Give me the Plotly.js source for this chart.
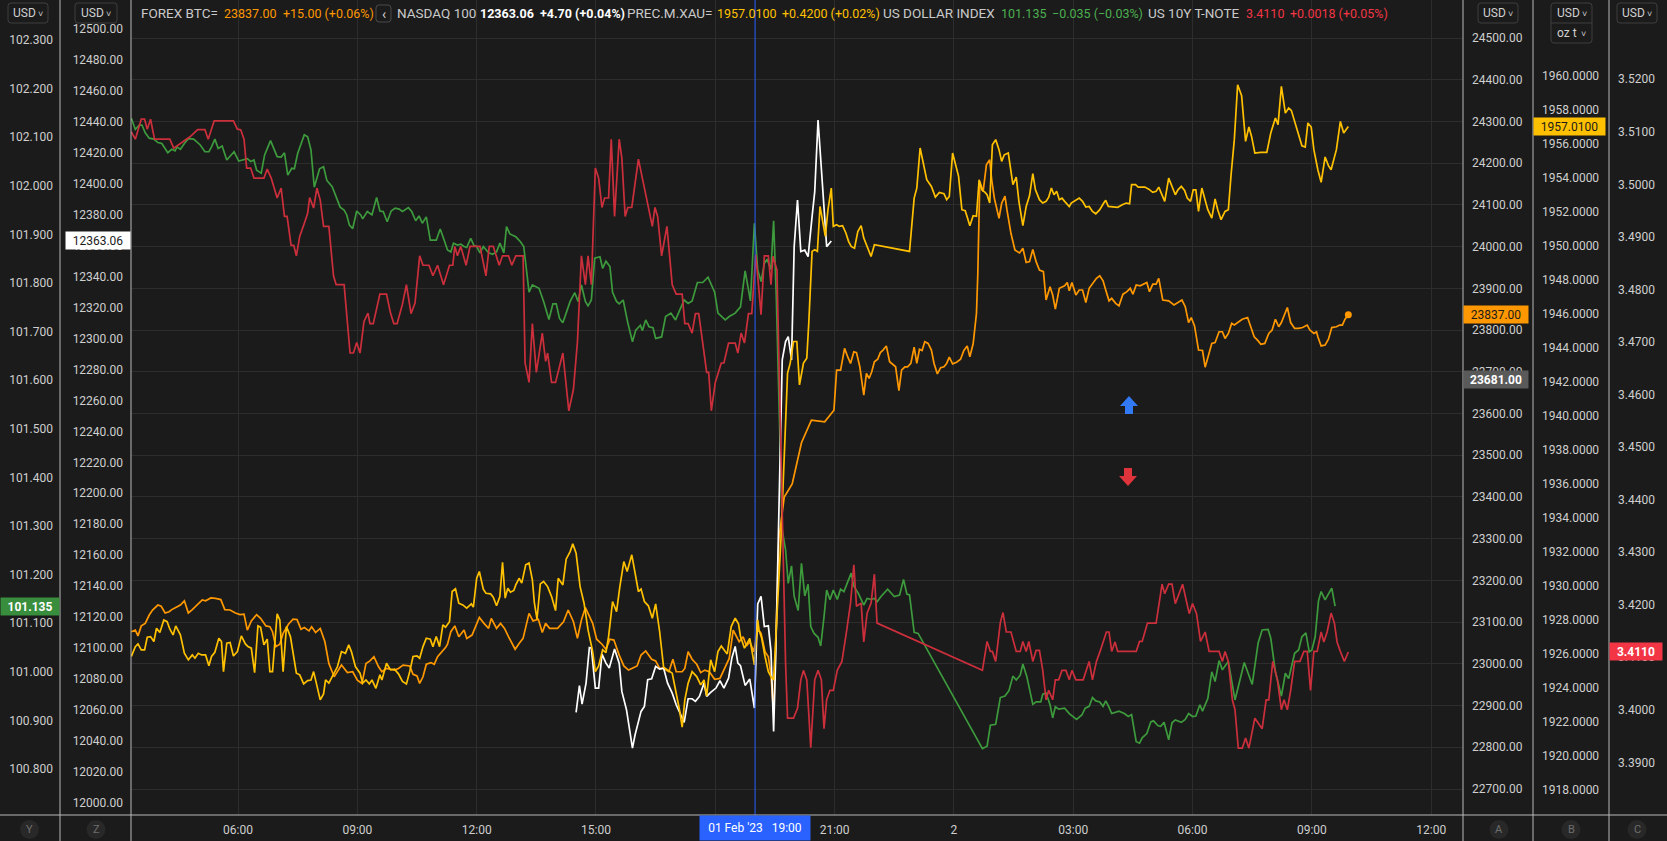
<!DOCTYPE html>
<html><head><meta charset="utf-8">
<script src="https://cdn.plot.ly/plotly-3.0.1.min.js"></script>
<style>html,body{margin:0;padding:0;background:#1b1b1b;overflow:hidden}#chart{width:1667px;height:841px}</style>
</head><body><div id="chart"></div>
<script>
// ---------------- DATA ----------------
// time strings: "<day of Feb 2023> HH:MM"
const tnoteT = ['1 03:19','1 03:25','1 03:34','1 03:39','1 03:43','1 03:48','1 03:54','1 04:17','1 04:23','1 04:48','1 04:59','1 05:10','1 05:15','1 05:24','1 05:53','1 05:59','1 06:04','1 06:09','1 06:13','1 06:19','1 06:24','1 06:39','1 06:44','1 06:50','1 06:59','1 07:05','1 07:10','1 07:14','1 07:20','1 07:24','1 07:28','1 07:33','1 07:40','1 07:45','1 07:48','1 07:54','1 07:59','1 08:04','1 08:09','1 08:17','1 08:24','1 08:28','1 08:40','1 08:49','1 08:54','1 08:59','1 09:04','1 09:10','1 09:16','1 09:19','1 09:24','1 09:34','1 09:44','1 09:50','1 09:55','1 10:00','1 10:08','1 10:14','1 10:21','1 10:27','1 10:34','1 10:39','1 10:48','1 10:54','1 11:01','1 11:10','1 11:19','1 11:24','1 11:27','1 11:31','1 11:36','1 11:44','1 11:50','1 12:05','1 12:14','1 12:19','1 12:25','1 12:34','1 12:39','1 12:48','1 12:53','1 12:59','1 13:10','1 13:13','1 13:19','1 13:24','1 13:30','1 13:36','1 13:39','1 13:44','1 13:47','1 13:53','1 13:59','1 14:10','1 14:19','1 14:26','1 14:32','1 14:38','1 14:44','1 14:48','1 14:53','1 14:59','1 15:04','1 15:09','1 15:13','1 15:19','1 15:23','1 15:28','1 15:35','1 15:39','1 15:44','1 15:48','1 15:54','1 16:04','1 16:21','1 16:25','1 16:29','1 16:33','1 16:39','1 16:47','1 16:55','1 17:01','1 17:10','1 17:14','1 17:19','1 17:25','1 17:30','1 17:35','1 17:47','1 17:50','1 17:54','1 18:00','1 18:09','1 18:13','1 18:20','1 18:30','1 18:34','1 18:39','1 18:44','1 18:50','1 18:55','1 19:01','1 19:04','1 19:09','1 19:14','1 19:20','1 19:24','1 19:27','1 19:33','1 19:46','1 19:49','1 19:58','1 20:04','1 20:09','1 20:13','1 20:18','1 20:24','1 20:30','1 20:35','1 20:40','1 20:44','1 20:48','1 20:53','1 20:58','1 21:04','1 21:11','1 21:18','1 21:24','1 21:29','1 21:33','1 21:40','1 21:44','1 21:49','1 21:55','1 22:00','1 22:04','2 00:43','2 00:50','2 00:55','2 00:58','2 01:03','2 01:10','2 01:14','2 01:19','2 01:26','2 01:34','2 01:40','2 01:44','2 01:49','2 01:53','2 01:59','2 02:04','2 02:09','2 02:14','2 02:19','2 02:23','2 02:29','2 02:33','2 02:38','2 02:43','2 02:49','2 02:54','2 02:58','2 03:04','2 03:15','2 03:24','2 03:29','2 03:35','2 03:41','2 03:50','2 03:54','2 03:58','2 04:03','2 04:07','2 04:35','2 04:40','2 04:44','2 04:52','2 05:05','2 05:14','2 05:18','2 05:24','2 05:29','2 05:34','2 05:45','2 05:55','2 06:00','2 06:06','2 06:12','2 06:19','2 06:25','2 06:40','2 06:45','2 06:49','2 06:54','2 07:00','2 07:04','2 07:09','2 07:15','2 07:20','2 07:25','2 07:34','2 07:45','2 07:51','2 07:55','2 08:01','2 08:08','2 08:14','2 08:18','2 08:23','2 08:28','2 08:34','2 08:42','2 08:48','2 08:53','2 08:58','2 09:03','2 09:08','2 09:14','2 09:18','2 09:23','2 09:29','2 09:34','2 09:38','2 09:43','2 09:49','2 09:55'];
const tnoteV = [3.5100,3.5086,3.5124,3.5124,3.5105,3.5124,3.5086,3.5086,3.5069,3.5091,3.5104,3.5104,3.5086,3.5121,3.5121,3.5105,3.5104,3.5086,3.5031,3.5031,3.5012,3.5012,3.5029,3.5012,3.4974,3.4993,3.4939,3.4939,3.4884,3.4884,3.4864,3.4901,3.4926,3.4945,3.4975,3.4955,3.4993,3.4970,3.4920,3.4920,3.4826,3.4809,3.4809,3.4679,3.4679,3.4699,3.4679,3.4739,3.4755,3.4735,3.4735,3.4791,3.4791,3.4755,3.4735,3.4735,3.4772,3.4809,3.4754,3.4774,3.4864,3.4846,3.4846,3.4826,3.4846,3.4809,3.4846,3.4846,3.4882,3.4864,3.4882,3.4846,3.4882,3.4882,3.4826,3.4882,3.4882,3.4846,3.4864,3.4864,3.4846,3.4864,3.4864,3.4660,3.4623,3.4735,3.4642,3.4698,3.4717,3.4663,3.4679,3.4623,3.4623,3.4679,3.4569,3.4610,3.4700,3.4864,3.4809,3.4864,3.4809,3.5031,3.5012,3.4956,3.4974,3.4974,3.5086,3.4939,3.5086,3.5050,3.4939,3.4956,3.4956,3.5048,3.4939,3.4920,3.4956,3.4939,3.4864,3.4920,3.4809,3.4791,3.4791,3.4735,3.4735,3.4717,3.4754,3.4754,3.4642,3.4642,3.4569,3.4623,3.4660,3.4660,3.4698,3.4698,3.4679,3.4717,3.4698,3.4754,3.4754,3.4866,3.4825,3.4752,3.4864,3.4864,3.4809,3.4863,3.4837,3.4089,3.3984,3.3984,3.4003,3.4057,3.4075,3.4057,3.3928,3.4057,3.4075,3.4057,3.3964,3.4019,3.4037,3.4037,3.4075,3.4092,3.4149,3.4203,3.4276,3.4197,3.4203,3.4129,3.4184,3.4203,3.4258,3.4165,3.4075,3.4130,3.4111,3.4111,3.4092,3.4166,3.4185,3.4148,3.4148,3.4111,3.4111,3.4130,3.4111,3.4130,3.4092,3.4113,3.4113,3.4075,3.4019,3.4037,3.4019,3.4057,3.4057,3.4075,3.4075,3.4057,3.4075,3.4057,3.4057,3.4092,3.4057,3.4092,3.4113,3.4148,3.4148,3.4111,3.4129,3.4111,3.4111,3.4130,3.4130,3.4165,3.4165,3.4239,3.4221,3.4239,3.4239,3.4202,3.4239,3.4183,3.4202,3.4183,3.4130,3.4148,3.4111,3.4111,3.4092,3.4111,3.4092,3.4019,3.4000,3.3927,3.3927,3.3946,3.3927,3.3984,3.3964,3.4019,3.4019,3.4092,3.4057,3.4000,3.4019,3.4000,3.4037,3.4092,3.4092,3.4111,3.4111,3.4037,3.4111,3.4111,3.4148,3.4129,3.4148,3.4184,3.4165,3.4129,3.4111,3.4092,3.4110];

const dxyT = ['1 03:19','1 03:25','1 03:31','1 03:35','1 03:40','1 03:46','1 03:53','1 03:59','1 04:05','1 04:14','1 04:20','1 04:25','1 04:28','1 04:33','1 04:39','1 04:45','1 04:53','1 05:03','1 05:10','1 05:16','1 05:20','1 05:25','1 05:30','1 05:36','1 05:43','1 05:48','1 05:54','1 06:01','1 06:08','1 06:14','1 06:19','1 06:24','1 06:28','1 06:35','1 06:40','1 06:49','1 06:59','1 07:05','1 07:10','1 07:15','1 07:21','1 07:25','1 07:30','1 07:40','1 07:45','1 07:50','1 07:55','1 08:03','1 08:09','1 08:14','1 08:22','1 08:28','1 08:34','1 08:40','1 08:44','1 08:48','1 08:53','1 08:59','1 09:05','1 09:08','1 09:15','1 09:22','1 09:29','1 09:34','1 09:39','1 09:45','1 09:51','1 09:57','1 10:03','1 10:08','1 10:17','1 10:22','1 10:28','1 10:33','1 10:38','1 10:44','1 10:50','1 10:59','1 11:05','1 11:11','1 11:16','1 11:21','1 11:25','1 11:31','1 11:36','1 11:41','1 11:45','1 11:51','1 11:56','1 12:00','1 12:05','1 12:10','1 12:18','1 12:24','1 12:30','1 12:35','1 12:41','1 12:45','1 12:50','1 12:59','1 13:06','1 13:11','1 13:19','1 13:24','1 13:34','1 13:41','1 13:49','1 13:55','1 14:00','1 14:05','1 14:10','1 14:21','1 14:28','1 14:33','1 14:38','1 14:44','1 14:48','1 14:53','1 14:58','1 15:06','1 15:10','1 15:15','1 15:21','1 15:25','1 15:31','1 15:35','1 15:41','1 15:48','1 15:55','1 16:00','1 16:07','1 16:10','1 16:15','1 16:20','1 16:26','1 16:30','1 16:39','1 16:45','1 16:53','1 17:00','1 17:06','1 17:13','1 17:19','1 17:25','1 17:33','1 17:41','1 17:49','1 17:59','1 18:04','1 18:15','1 18:21','1 18:30','1 18:38','1 18:45','1 18:53','1 18:59','1 19:04','1 19:09','1 19:14','1 19:18','1 19:24','1 19:28','1 19:32','1 19:41','1 19:46','1 19:50','1 19:55','1 19:59','1 20:05','1 20:10','1 20:15','1 20:20','1 20:24','1 20:29','1 20:35','1 20:39','1 20:44','1 20:48','1 20:53','1 20:58','1 21:04','1 21:09','1 21:14','1 21:20','1 21:25','1 21:29','1 21:36','1 21:44','1 21:49','1 21:55','1 22:00','1 22:04','1 22:10','1 22:20','1 22:30','1 22:38','1 22:44','1 22:49','1 22:53','1 23:00','1 23:06','2 00:43','2 00:50','2 00:55','2 01:03','2 01:10','2 01:17','2 01:23','2 01:29','2 01:34','2 01:40','2 01:44','2 01:50','2 01:59','2 02:04','2 02:11','2 02:14','2 02:19','2 02:25','2 02:29','2 02:33','2 02:38','2 02:47','2 02:54','2 03:05','2 03:13','2 03:18','2 03:24','2 03:29','2 03:34','2 03:40','2 03:45','2 03:49','2 03:53','2 03:58','2 04:09','2 04:17','2 04:23','2 04:28','2 04:35','2 04:40','2 04:44','2 04:51','2 04:57','2 05:01','2 05:08','2 05:12','2 05:17','2 05:24','2 05:29','2 05:34','2 05:43','2 05:49','2 05:54','2 06:00','2 06:05','2 06:11','2 06:15','2 06:23','2 06:29','2 06:34','2 06:40','2 06:45','2 06:54','2 07:04','2 07:18','2 07:30','2 07:39','2 07:45','2 07:54','2 07:58','2 08:05','2 08:14','2 08:20','2 08:25','2 08:34','2 08:40','2 08:45','2 08:51','2 08:56','2 09:00','2 09:05','2 09:10','2 09:14','2 09:20','2 09:30','2 09:35'];
const dxyV = [102.139,102.116,102.125,102.125,102.109,102.098,102.096,102.089,102.087,102.068,102.075,102.072,102.080,102.075,102.087,102.097,102.096,102.084,102.070,102.070,102.080,102.096,102.077,102.082,102.053,102.060,102.070,102.051,102.053,102.056,102.050,102.053,102.032,102.026,102.063,102.093,102.060,102.059,102.068,102.022,102.036,102.035,102.067,102.105,102.101,102.074,101.997,102.035,102.039,102.011,101.998,101.978,101.956,101.950,101.940,101.919,101.912,101.948,101.940,101.932,101.947,101.940,101.976,101.948,101.947,101.926,101.948,101.954,101.952,101.947,101.955,101.947,101.928,101.938,101.923,101.936,101.888,101.888,101.911,101.888,101.868,101.864,101.882,101.878,101.880,101.875,101.873,101.892,101.877,101.875,101.862,101.875,101.862,101.859,101.864,101.882,101.862,101.916,101.901,101.895,101.885,101.875,101.781,101.796,101.789,101.762,101.725,101.757,101.757,101.727,101.718,101.762,101.780,101.762,101.796,101.762,101.753,101.765,101.851,101.854,101.830,101.845,101.834,101.781,101.762,101.757,101.765,101.718,101.679,101.703,101.713,101.702,101.724,101.710,101.708,101.686,101.689,101.731,101.738,101.724,101.744,101.765,101.758,101.763,101.801,101.801,101.812,101.781,101.738,101.724,101.731,101.738,101.751,101.825,101.763,101.923,101.827,101.803,101.840,101.849,101.828,101.928,101.772,101.292,101.251,101.182,101.218,101.155,101.126,101.223,101.156,101.180,101.093,101.079,101.071,101.053,101.113,101.168,101.148,101.168,101.149,101.170,101.165,101.185,101.203,101.176,101.161,101.137,101.151,101.149,101.151,101.144,101.155,101.170,101.155,101.158,101.190,101.160,101.158,101.081,101.079,100.842,100.847,100.890,100.892,100.947,100.950,100.961,100.991,100.983,100.993,101.016,100.990,100.933,100.938,100.938,100.954,100.956,100.932,100.905,100.928,100.923,100.925,100.914,100.902,100.911,100.925,100.929,100.947,100.940,100.938,100.929,100.940,100.930,100.914,100.919,100.914,100.908,100.912,100.856,100.853,100.864,100.873,100.897,100.899,100.889,100.888,100.896,100.860,100.895,100.901,100.896,100.902,100.914,100.908,100.909,100.932,100.919,100.945,101.000,100.980,101.023,101.004,101.021,100.942,101.019,100.974,101.060,101.086,101.087,101.069,101.000,100.950,100.997,100.986,101.038,101.045,101.072,101.080,101.041,101.045,101.072,101.146,101.165,101.148,101.172,101.135];

const ndxT = ['1 14:30','1 14:35','1 14:39','1 14:45','1 14:50','1 14:53','1 14:59','1 15:04','1 15:09','1 15:15','1 15:20','1 15:28','1 15:35','1 15:39','1 15:46','1 15:55','1 15:59','1 16:08','1 16:13','1 16:18','1 16:24','1 16:30','1 16:36','1 16:42','1 16:48','1 16:55','1 17:01','1 17:07','1 17:13','1 17:19','1 17:25','1 17:30','1 17:36','1 17:43','1 17:47','1 17:53','1 18:01','1 18:07','1 18:13','1 18:20','1 18:25','1 18:30','1 18:34','1 18:38','1 18:45','1 18:52','1 18:59','1 19:04','1 19:09','1 19:14','1 19:20','1 19:24','1 19:28','1 19:31','1 19:41','1 19:46','1 19:50','1 19:55','1 19:59','1 20:04','1 20:09','1 20:15','1 20:20','1 20:26','1 20:30','1 20:35','1 20:40','1 20:44','1 20:48','1 20:55'];
const ndxV = [12058.4,12075.6,12063.7,12077.3,12100.3,12099.9,12074.1,12074.1,12096.0,12090.2,12087.0,12099.3,12090.2,12071.9,12060.1,12035.3,12043.9,12059.0,12062.2,12079.5,12080.1,12088.1,12086.3,12087.0,12077.3,12070.8,12063.3,12057.9,12051.9,12067.2,12067.2,12065.5,12068.7,12077.3,12068.7,12071.3,12074.1,12078.8,12074.1,12080.5,12093.5,12101.0,12090.2,12088.5,12075.8,12079.9,12061.2,12128.5,12133.3,12113.9,12114.3,12097.8,12046.1,12092.4,12286.2,12298.0,12301.3,12286.2,12359.4,12389.5,12356.2,12357.2,12352.9,12378.8,12394.9,12441.2,12411.1,12389.5,12359.4,12363.06];

const btcT = ['1 03:19','1 03:25','1 03:29','1 03:34','1 03:40','1 03:46','1 03:51','1 03:59','1 04:04','1 04:10','1 04:16','1 04:20','1 04:26','1 04:33','1 04:39','1 04:45','1 04:51','1 04:59','1 05:06','1 05:11','1 05:19','1 05:26','1 05:34','1 05:40','1 05:48','1 05:56','1 06:03','1 06:09','1 06:14','1 06:20','1 06:28','1 06:34','1 06:42','1 06:48','1 06:52','1 06:57','1 07:03','1 07:08','1 07:16','1 07:23','1 07:29','1 07:35','1 07:40','1 07:47','1 07:51','1 07:57','1 08:04','1 08:11','1 08:17','1 08:25','1 08:31','1 08:36','1 08:45','1 08:53','1 09:00','1 09:07','1 09:13','1 09:19','1 09:25','1 09:32','1 09:37','1 09:44','1 09:50','1 09:56','1 10:02','1 10:09','1 10:19','1 10:24','1 10:30','1 10:34','1 10:39','1 10:44','1 10:51','1 10:56','1 11:01','1 11:07','1 11:13','1 11:16','1 11:21','1 11:27','1 11:33','1 11:41','1 11:45','1 11:53','1 11:59','1 12:04','1 12:11','1 12:18','1 12:22','1 12:30','1 12:36','1 12:42','1 12:48','1 12:58','1 13:04','1 13:10','1 13:19','1 13:25','1 13:33','1 13:39','1 13:44','1 13:50','1 14:02','1 14:11','1 14:18','1 14:26','1 14:32','1 14:38','1 14:44','1 14:50','1 14:55','1 15:01','1 15:09','1 15:15','1 15:21','1 15:27','1 15:35','1 15:42','1 15:49','1 15:54','1 16:02','1 16:08','1 16:15','1 16:24','1 16:30','1 16:36','1 16:42','1 16:50','1 16:56','1 17:01','1 17:10','1 17:14','1 17:19','1 17:25','1 17:32','1 17:38','1 17:44','1 17:51','1 17:59','1 18:07','1 18:13','1 18:21','1 18:27','1 18:31','1 18:36','1 18:42','1 18:47','1 18:52','1 18:58','1 19:04','1 19:09','1 19:15','1 19:20','1 19:24','1 19:28','1 19:36','1 19:44','1 19:56','1 20:10','1 20:25','1 20:45','1 20:59','1 21:03','1 21:09','1 21:15','1 21:20','1 21:24','1 21:29','1 21:33','1 21:38','1 21:44','1 21:48','1 21:52','1 21:56','1 22:00','1 22:05','1 22:09','1 22:13','1 22:18','1 22:23','1 22:28','1 22:32','1 22:37','1 22:41','1 22:46','1 22:50','1 22:55','1 23:00','1 23:04','1 23:08','1 23:12','1 23:16','1 23:21','1 23:26','1 23:30','1 23:35','1 23:40','1 23:45','1 23:49','1 23:53','1 23:58','2 00:04','2 00:10','2 00:15','2 00:20','2 00:24','2 00:29','2 00:34','2 00:36','2 00:39','2 00:44','2 00:49','2 00:54','2 00:57','2 01:01','2 01:08','2 01:12','2 01:17','2 01:20','2 01:26','2 01:32','2 01:39','2 01:44','2 01:49','2 01:54','2 01:59','2 02:04','2 02:09','2 02:15','2 02:19','2 02:25','2 02:29','2 02:33','2 02:39','2 02:47','2 02:51','2 02:54','2 02:58','2 03:04','2 03:09','2 03:14','2 03:19','2 03:24','2 03:31','2 03:35','2 03:40','2 03:45','2 03:49','2 03:54','2 03:58','2 04:04','2 04:09','2 04:15','2 04:21','2 04:26','2 04:30','2 04:35','2 04:41','2 04:48','2 04:51','2 04:55','2 05:00','2 05:05','2 05:09','2 05:15','2 05:24','2 05:32','2 05:40','2 05:44','2 05:49','2 05:54','2 05:58','2 06:03','2 06:09','2 06:15','2 06:19','2 06:24','2 06:29','2 06:34','2 06:40','2 06:45','2 06:49','2 06:54','2 06:59','2 07:03','2 07:09','2 07:15','2 07:23','2 07:28','2 07:33','2 07:39','2 07:43','2 07:49','2 07:55','2 08:00','2 08:05','2 08:10','2 08:14','2 08:23','2 08:28','2 08:34','2 08:40','2 08:46','2 08:53','2 08:57','2 09:03','2 09:07','2 09:09','2 09:14','2 09:20','2 09:25','2 09:30','2 09:37','2 09:42','2 09:46','2 09:50','2 09:55'];
const btcV = [23077,23081,23067,23091,23097,23117,23129,23141,23138,23122,23125,23130,23135,23141,23151,23122,23130,23141,23153,23151,23158,23157,23154,23130,23129,23122,23118,23119,23081,23103,23118,23109,23091,23089,23077,23041,23047,23073,23095,23107,23106,23083,23087,23079,23089,23075,23085,23053,23001,22969,22985,22997,22979,22981,22961,22953,23001,23007,23017,22993,22981,22989,22987,22985,22989,22997,22995,22975,22971,22953,22969,22999,23003,22999,23017,23027,23039,23047,23077,23091,23065,23081,23061,23069,23093,23111,23097,23085,23109,23085,23097,23085,23065,23035,23049,23061,23121,23103,23107,23075,23097,23085,23085,23101,23129,23101,23061,23105,23135,23113,23097,23059,23047,23035,23059,23057,23021,22995,22985,22989,22995,23021,23031,23011,23007,22989,22989,22981,23011,22981,22981,22989,23029,23011,22999,22979,22985,22981,22963,22965,22985,23013,23081,23069,23053,23065,23043,23053,23029,23083,23073,23029,23017,22973,22881,23300,23400,23431,23530,23584,23580,23608,23704,23704,23756,23735,23720,23748,23746,23712,23644,23696,23684,23700,23724,23730,23746,23752,23762,23724,23716,23712,23655,23704,23712,23712,23720,23759,23720,23754,23751,23772,23768,23752,23720,23695,23710,23712,23720,23735,23719,23723,23730,23751,23762,23736,23767,23840,23934,24156,24132,24196,24208,24160,24116,24068,24104,24121,24088,24032,23992,23985,23996,23962,23964,23993,23964,23944,23940,23872,23904,23884,23850,23900,23906,23914,23894,23914,23884,23896,23896,23866,23900,23914,23924,23930,23918,23896,23870,23876,23864,23858,23886,23892,23900,23886,23908,23906,23912,23914,23892,23910,23910,23924,23872,23870,23860,23868,23872,23856,23818,23830,23810,23752,23751,23711,23740,23768,23770,23796,23796,23780,23792,23816,23812,23820,23826,23830,23808,23784,23774,23766,23768,23792,23800,23826,23808,23818,23854,23818,23804,23804,23806,23812,23800,23792,23796,23784,23762,23764,23778,23806,23808,23812,23812,23826,23837];

const goldT = ['1 03:19','1 03:25','1 03:29','1 03:34','1 03:39','1 03:43','1 03:48','1 03:53','1 03:57','1 04:02','1 04:08','1 04:13','1 04:17','1 04:22','1 04:26','1 04:33','1 04:39','1 04:45','1 04:51','1 04:55','1 05:00','1 05:05','1 05:11','1 05:16','1 05:20','1 05:25','1 05:31','1 05:35','1 05:38','1 05:43','1 05:48','1 05:53','1 05:59','1 06:05','1 06:11','1 06:15','1 06:20','1 06:25','1 06:30','1 06:34','1 06:39','1 06:44','1 06:48','1 06:52','1 06:59','1 07:03','1 07:08','1 07:13','1 07:19','1 07:28','1 07:33','1 07:39','1 07:45','1 07:50','1 07:54','1 07:59','1 08:04','1 08:09','1 08:12','1 08:17','1 08:24','1 08:30','1 08:36','1 08:42','1 08:47','1 08:51','1 08:57','1 09:04','1 09:08','1 09:13','1 09:18','1 09:22','1 09:28','1 09:34','1 09:37','1 09:44','1 09:50','1 09:56','1 10:02','1 10:08','1 10:14','1 10:19','1 10:24','1 10:30','1 10:34','1 10:39','1 10:44','1 10:50','1 10:54','1 10:59','1 11:04','1 11:09','1 11:13','1 11:19','1 11:23','1 11:28','1 11:33','1 11:39','1 11:45','1 11:52','1 11:55','1 12:00','1 12:04','1 12:10','1 12:14','1 12:21','1 12:25','1 12:30','1 12:35','1 12:39','1 12:43','1 12:47','1 12:51','1 12:56','1 12:59','1 13:04','1 13:08','1 13:14','1 13:19','1 13:24','1 13:27','1 13:31','1 13:36','1 13:41','1 13:47','1 13:53','1 13:59','1 14:03','1 14:10','1 14:15','1 14:21','1 14:25','1 14:30','1 14:36','1 14:42','1 14:48','1 14:55','1 14:59','1 15:04','1 15:10','1 15:15','1 15:19','1 15:25','1 15:31','1 15:36','1 15:42','1 15:47','1 15:54','1 15:59','1 16:04','1 16:08','1 16:13','1 16:19','1 16:25','1 16:30','1 16:36','1 16:42','1 16:48','1 16:55','1 17:01','1 17:06','1 17:10','1 17:14','1 17:19','1 17:25','1 17:32','1 17:38','1 17:43','1 17:47','1 17:53','1 17:59','1 18:04','1 18:09','1 18:15','1 18:18','1 18:24','1 18:30','1 18:35','1 18:38','1 18:44','1 18:52','1 18:59','1 19:04','1 19:06','1 19:10','1 19:15','1 19:20','1 19:24','1 19:28','1 19:39','1 19:46','1 19:49','1 19:53','1 19:58','1 20:03','1 20:07','1 20:13','1 20:18','1 20:21','1 20:26','1 20:30','1 20:34','1 20:38','1 20:42','1 20:46','1 20:50','1 20:55','1 20:58','1 21:03','1 21:07','1 21:12','1 21:17','1 21:21','1 21:25','1 21:30','1 21:35','1 21:40','1 21:44','1 21:49','1 21:55','1 22:00','1 22:53','1 23:00','1 23:04','1 23:09','1 23:14','1 23:19','1 23:26','1 23:32','1 23:38','1 23:45','1 23:49','1 23:53','1 23:58','2 00:03','2 00:07','2 00:12','2 00:17','2 00:20','2 00:24','2 00:29','2 00:34','2 00:38','2 00:42','2 00:47','2 00:50','2 00:54','2 00:58','2 01:03','2 01:08','2 01:12','2 01:16','2 01:22','2 01:26','2 01:29','2 01:34','2 01:38','2 01:44','2 01:49','2 01:54','2 01:59','2 02:03','2 02:09','2 02:14','2 02:19','2 02:23','2 02:27','2 02:31','2 02:35','2 02:39','2 02:43','2 02:47','2 02:54','2 02:57','2 03:03','2 03:09','2 03:14','2 03:19','2 03:24','2 03:29','2 03:34','2 03:40','2 03:46','2 03:49','2 03:53','2 03:58','2 04:07','2 04:14','2 04:20','2 04:25','2 04:28','2 04:34','2 04:38','2 04:48','2 04:54','2 05:00','2 05:05','2 05:09','2 05:13','2 05:18','2 05:24','2 05:29','2 05:34','2 05:38','2 05:43','2 05:48','2 05:52','2 05:57','2 06:01','2 06:05','2 06:09','2 06:14','2 06:19','2 06:23','2 06:29','2 06:34','2 06:38','2 06:43','2 06:49','2 06:54','2 06:58','2 07:03','2 07:08','2 07:14','2 07:20','2 07:25','2 07:29','2 07:34','2 07:43','2 07:52','2 07:58','2 08:05','2 08:09','2 08:14','2 08:20','2 08:25','2 08:29','2 08:35','2 08:40','2 08:45','2 08:50','2 08:54','2 08:59','2 09:03','2 09:09','2 09:14','2 09:20','2 09:25','2 09:29','2 09:37','2 09:43','2 09:48','2 09:55'];
const goldV = [1925.85,1926.43,1926.59,1926.24,1926.24,1926.98,1927.02,1926.73,1927.51,1927.26,1928.00,1927.90,1927.47,1927.12,1927.65,1927.12,1926.04,1925.65,1925.94,1925.75,1926.04,1925.94,1925.94,1925.30,1925.85,1926.10,1926.92,1926.73,1924.96,1926.63,1926.67,1925.88,1926.14,1927.06,1926.59,1926.43,1926.34,1924.90,1927.65,1927.57,1926.53,1926.87,1924.96,1924.96,1928.36,1928.00,1924.96,1927.61,1927.02,1924.87,1924.77,1924.24,1924.43,1924.47,1924.96,1924.08,1923.30,1923.65,1924.47,1924.28,1924.77,1925.26,1926.14,1926.04,1926.53,1926.14,1925.26,1924.87,1924.28,1924.47,1924.24,1924.47,1923.98,1924.77,1924.47,1925.45,1925.06,1925.10,1924.83,1924.38,1924.24,1924.96,1925.85,1925.88,1925.75,1926.43,1926.92,1926.87,1926.43,1927.02,1926.43,1927.71,1927.57,1927.90,1929.67,1929.83,1928.98,1928.88,1928.69,1928.94,1928.75,1930.45,1930.85,1929.81,1929.57,1929.53,1929.34,1928.83,1929.37,1931.39,1929.28,1929.87,1929.63,1929.73,1930.06,1930.45,1930.16,1931.24,1931.34,1930.36,1929.02,1928.04,1930.12,1930.26,1929.96,1929.37,1928.55,1930.45,1930.06,1931.57,1932.02,1932.47,1931.92,1929.96,1928.98,1927.41,1926.14,1924.96,1925.30,1926.24,1926.08,1927.02,1929.08,1928.49,1929.96,1931.43,1930.85,1931.83,1930.75,1929.67,1929.81,1929.08,1928.83,1928.10,1928.94,1927.32,1925.22,1925.06,1924.87,1923.69,1922.71,1921.69,1923.30,1924.28,1924.96,1924.67,1924.18,1924.47,1923.53,1925.65,1924.96,1926.14,1926.47,1926.14,1926.00,1927.61,1928.10,1927.77,1927.02,1926.34,1926.92,1925.36,1928.00,1927.41,1926.92,1925.85,1924.96,1924.67,1924.47,1932.71,1940.35,1942.51,1943.10,1944.37,1944.37,1941.82,1943.10,1943.39,1945.45,1949.67,1949.77,1949.67,1952.31,1951.33,1950.55,1952.12,1953.39,1951.14,1951.24,1951.14,1951.18,1950.75,1950.26,1949.96,1949.86,1950.84,1951.18,1950.45,1950.00,1949.37,1950.06,1949.67,1952.80,1953.39,1955.75,1954.86,1953.88,1953.49,1952.86,1953.14,1953.06,1952.71,1952.90,1955.45,1954.67,1954.08,1952.12,1952.06,1951.69,1951.18,1951.77,1951.73,1953.88,1953.29,1953.14,1953.00,1952.51,1955.94,1956.24,1955.65,1954.96,1955.35,1955.45,1954.47,1953.59,1954.04,1952.61,1951.18,1952.31,1952.94,1954.24,1953.29,1952.71,1952.51,1952.61,1952.86,1953.39,1953.00,1953.20,1952.71,1952.80,1952.61,1952.31,1952.51,1952.65,1952.80,1952.61,1952.28,1952.31,1952.02,1951.88,1952.12,1952.51,1952.67,1952.31,1952.28,1952.26,1952.41,1952.51,1952.47,1953.59,1953.59,1953.45,1953.45,1953.33,1953.14,1953.20,1953.45,1953.10,1952.61,1953.98,1953.45,1953.00,1953.29,1953.49,1953.25,1952.80,1952.61,1953.29,1953.29,1952.02,1953.39,1952.71,1952.12,1951.63,1952.75,1952.12,1951.53,1952.02,1952.12,1954.12,1956.24,1959.47,1958.82,1956.14,1956.98,1956.43,1955.45,1955.49,1955.49,1956.63,1957.51,1957.12,1959.37,1957.80,1958.10,1957.96,1957.12,1956.43,1955.88,1955.80,1957.22,1956.98,1955.65,1954.47,1953.73,1955.22,1954.71,1954.47,1955.65,1957.31,1956.63,1957.01];

// axis tick values
const dxyTicks = [100.8,100.9,101.0,101.1,101.2,101.3,101.4,101.5,101.6,101.7,101.8,101.9,102.0,102.1,102.2,102.3];
const ndxTicks = [12000,12020,12040,12060,12080,12100,12120,12140,12160,12180,12200,12220,12240,12260,12280,12300,12320,12340,12360,12380,12400,12420,12440,12460,12480,12500];
const btcTicks = [22700,22800,22900,23000,23100,23200,23300,23400,23500,23600,23700,23800,23900,24000,24100,24200,24300,24400,24500];
const goldTicks = [1918,1920,1922,1924,1926,1928,1930,1932,1934,1936,1938,1940,1942,1944,1946,1948,1950,1952,1954,1956,1958,1960];
const tnoteTicks = [3.39,3.40,3.41,3.42,3.43,3.44,3.45,3.46,3.47,3.48,3.49,3.50,3.51,3.52];
const timeTicks = ['1 06:00','1 09:00','1 12:00','1 15:00','1 18:00','1 21:00','2 00:00','2 03:00','2 06:00','2 09:00','2 12:00'];
const timeTickText = ['06:00','09:00','12:00','15:00','','21:00','2','03:00','06:00','09:00','12:00'];
const crosshairTime = '1 19:00';
const crosshairLabel = "01 Feb '23&nbsp;&nbsp;&nbsp;19:00";
const crosshairBtc = 23681;

const header = {
  btc:  {name:'FOREX BTC=', last:'23837.00', chg:'+15.00 (+0.06%)'},
  ndx:  {name:'NASDAQ 100', last:'12363.06', chg:'+4.70 (+0.04%)'},
  gold: {name:'PREC.M.XAU=', last:'1957.0100', chg:'+0.4200 (+0.02%)'},
  dxy:  {name:'US DOLLAR INDEX', last:'101.135', chg:'\u22120.035 (\u22120.03%)'},
  tnote:{name:'US 10Y T-NOTE', last:'3.4110', chg:'+0.0018 (+0.05%)'}
};

// ---------------- RENDER ----------------
const D = s => '2023-02-0' + s[0] + ' ' + s.slice(2);
const W = 1667, PB = 815;
const PX = x => x / W;
const PY = y => (PB - y) / PB;
const last = a => a[a.length - 1];

const C = {bg:'#1b1b1b', grid:'#2d2d2d', tick:'#cfcfcf', div:'#b9b9b9',
  btc:'#ff9800', ndx:'#ffffff', gold:'#ffc000', dxy:'#3d9a3d', tnote:'#cc2f3c', blue:'#2962ff'};
const FONT = 'Roboto, "Open Sans", sans-serif';

const traces = [
  {x:btcT.map(D), y:btcV, yaxis:'y', mode:'lines', line:{color:C.btc, width:1.7}},
  {x:dxyT.map(D), y:dxyV, yaxis:'y2', mode:'lines', line:{color:C.dxy, width:1.7}},
  {x:tnoteT.map(D), y:tnoteV, yaxis:'y5', mode:'lines', line:{color:C.tnote, width:1.7}},
  {x:goldT.map(D), y:goldV, yaxis:'y4', mode:'lines', line:{color:C.gold, width:1.7}},
  {x:ndxT.map(D), y:ndxV, yaxis:'y3', mode:'lines', line:{color:C.ndx, width:1.7}},
  {x:[D(last(btcT))], y:[last(btcV)], yaxis:'y', mode:'markers', marker:{color:C.btc, size:7}}
].map(t => Object.assign(t, {hoverinfo:'skip', showlegend:false}));

const tf = {family:FONT, size:12, color:C.tick};
const baseY = {showgrid:false, zeroline:false, showline:false, ticks:'', tickfont:tf, fixedrange:true,
  domain:[0,1], anchor:'free', tickmode:'array'};

function rr(x0,y0,x1,y1,r){
  return `M ${PX(x0+r)},${PY(y0)} L ${PX(x1-r)},${PY(y0)} Q ${PX(x1)},${PY(y0)} ${PX(x1)},${PY(y0+r)} `+
    `L ${PX(x1)},${PY(y1-r)} Q ${PX(x1)},${PY(y1)} ${PX(x1-r)},${PY(y1)} L ${PX(x0+r)},${PY(y1)} `+
    `Q ${PX(x0)},${PY(y1)} ${PX(x0)},${PY(y1-r)} L ${PX(x0)},${PY(y0+r)} Q ${PX(x0)},${PY(y0)} ${PX(x0+r)},${PY(y0)} Z`;
}
function poly(pts){ return 'M ' + pts.map(p => PX(p[0]) + ',' + PY(p[1])).join(' L ') + ' Z'; }

const shapes = [];
const annotations = [];
const P = {xref:'paper', yref:'paper'};

// crosshair
shapes.push({type:'line', xref:'x', yref:'paper', x0:D(crosshairTime), x1:D(crosshairTime), y0:0, y1:1, line:{color:C.blue, width:1}, layer:'above'});
// dividers
[60,131,1463,1533,1609].forEach(x => shapes.push(Object.assign({type:'line', x0:PX(x), x1:PX(x), y0:PY(841), y1:1, line:{color:C.div, width:1}, layer:'above'}, P)));
shapes.push(Object.assign({type:'line', x0:0, x1:1, y0:PY(815), y1:PY(815), line:{color:C.div, width:1}, layer:'above'}, P));

// dropdown boxes
const ddBoxes = [[8,3,48,23],[75,3,117,23],[1478,3,1518,23],[1551,3,1592,43],[1617,3,1657,23]];
ddBoxes.forEach(b => {
  shapes.push(Object.assign({type:'path', path:rr(b[0],b[1],b[2],b[3],3), fillcolor:C.bg, line:{color:'#3e3e3e', width:1}, layer:'above'}, P));
  annotations.push(Object.assign({x:PX((b[0]+b[2])/2), y:PY(13), xanchor:'center', yanchor:'middle', showarrow:false,
    text:'USD<span style="font-size:9px"> \u02C5</span>', font:{family:FONT, size:12, color:'#cfcfcf'}}, P));
});
shapes.push(Object.assign({type:'line', x0:PX(1551), x1:PX(1592), y0:PY(23), y1:PY(23), line:{color:'#3e3e3e', width:1}, layer:'above'}, P));
annotations.push(Object.assign({x:PX(1571.5), y:PY(33), xanchor:'center', yanchor:'middle', showarrow:false,
  text:'oz t<span style="font-size:9px">  \u02C5</span>', font:{family:FONT, size:12, color:'#cfcfcf'}}, P));

// "<" button in header
shapes.push(Object.assign({type:'path', path:rr(376,5,391,22,3), fillcolor:C.bg, line:{color:'#4a4a4a', width:1}, layer:'above'}, P));
annotations.push(Object.assign({x:PX(383.5), y:PY(13.5), xanchor:'center', yanchor:'middle', showarrow:false, text:'\u2039', font:{family:FONT, size:14, color:'#cfcfcf'}}, P));

// header texts
const hy = PY(13);
function ht(x, text, color, size, bold){
  annotations.push(Object.assign({x:PX(x), y:hy, xanchor:'left', yanchor:'middle', showarrow:false,
    text: bold ? '<b>'+text+'</b>' : text, font:{family:FONT, size:size, color:color}, borderpad:0}, P));
}
ht(140, header.btc.name, '#c9c9c9', 13.5);
ht(223, header.btc.last, C.btc, 12.5);
ht(282, header.btc.chg, C.btc, 12.5);
ht(396, header.ndx.name, '#c9c9c9', 13.5);
ht(479, header.ndx.last, '#ffffff', 12.5, true);
ht(539, header.ndx.chg, '#ffffff', 12.5, true);
ht(626, header.gold.name, '#c9c9c9', 13.5);
ht(716, header.gold.last, C.gold, 12.5);
ht(781, header.gold.chg, C.gold, 12.5);
ht(882, header.dxy.name, '#c9c9c9', 13.5);
ht(1000, header.dxy.last, '#4caf50', 12.5);
ht(1051, header.dxy.chg, '#4caf50', 12.5);
ht(1147, header.tnote.name, '#c9c9c9', 13.5);
ht(1245, header.tnote.last, '#f23645', 12.5);
ht(1289, header.tnote.chg, '#f23645', 12.5);

// last value labels on axes
function vl(xpx, anchor, yref, yv, text, bg, fg, w){
  annotations.push({xref:'paper', yref:yref, x:PX(xpx), y:yv, xanchor:anchor, yanchor:'middle', showarrow:false,
    text:text, bgcolor:bg, font:{family:FONT, size:12, color:fg}, width:w, height:15, borderpad:1, align:'center'});
}
vl(60, 'right', 'y2', last(dxyV), '<b>'+last(dxyV).toFixed(3)+'</b>', '#388e3c', '#ffffff', 56);
vl(131, 'right', 'y3', last(ndxV), last(ndxV).toFixed(2), '#ffffff', '#1b1b1b', 62);
vl(1463, 'left', 'y', last(btcV), last(btcV).toFixed(2), C.btc, '#1b1b1b', 62);
vl(1463, 'left', 'y', crosshairBtc, '<b>'+crosshairBtc.toFixed(2)+'</b>', '#5a5a5a', '#ffffff', 62);
vl(1533, 'left', 'y4', last(goldV), last(goldV).toFixed(4), C.gold, '#1b1b1b', 69);
vl(1609, 'left', 'y5', last(tnoteV), '<b>'+last(tnoteV).toFixed(4)+'</b>', '#f23645', '#ffffff', 50);

// crosshair time label
annotations.push(Object.assign({x:PX(754.5), y:PY(828), xanchor:'center', yanchor:'middle', showarrow:false,
  text:crosshairLabel, bgcolor:C.blue, font:{family:FONT, size:12, color:'#ffffff'}, width:108, height:22, borderpad:1}, P));

// bottom axis letters
[['Y',29.5],['Z',96],['A',1499],['B',1571],['C',1637]].forEach(l => {
  shapes.push(Object.assign({type:'circle', x0:PX(l[1]-9.5), x1:PX(l[1]+9.5), y0:PY(820), y1:PY(839), fillcolor:'#282828', line:{width:0}, layer:'above'}, P));
  annotations.push(Object.assign({x:PX(l[1]), y:PY(829.5), xanchor:'center', yanchor:'middle', showarrow:false, text:l[0], font:{family:FONT, size:11, color:'#6e6e6e'}}, P));
});

// signal arrows
shapes.push(Object.assign({type:'path', path:poly([[1120,406],[1129,396],[1138,406],[1133,406],[1133,414],[1125,414],[1125,406]]), fillcolor:'#3179f5', line:{width:0}, layer:'above'}, P));
shapes.push(Object.assign({type:'path', path:poly([[1124,468],[1132,468],[1132,476],[1137,476],[1128,486],[1119,476],[1124,476]]), fillcolor:'#e0343c', line:{width:0}, layer:'above'}, P));

const layout = {
  width:1667, height:841, margin:{l:0, r:0, t:0, b:26, pad:0, autoexpand:false},
  paper_bgcolor:C.bg, plot_bgcolor:C.bg, showlegend:false, hovermode:false,
  font:{family:FONT, color:C.tick},
  xaxis:{type:'date', domain:[PX(131), PX(1463)], range:['2023-02-01 03:18:30','2023-02-02 12:48:00'],
    tickmode:'array', tickvals:timeTicks.map(D), ticktext:timeTickText, showgrid:true, gridcolor:C.grid, gridwidth:1,
    zeroline:false, showline:false, ticks:'', tickfont:tf, fixedrange:true, ticklabelstandoff:6},
  yaxis: Object.assign({}, baseY, {side:'right', position:PX(1463), range:[22637.7, 24591.1], tickvals:btcTicks, tickformat:'.2f', showgrid:true, gridcolor:C.grid, ticklabelstandoff:8}),
  yaxis2:Object.assign({}, baseY, {side:'left', position:PX(60), overlaying:'y', range:[100.7053, 102.3823], tickvals:dxyTicks, tickformat:'.3f', ticklabelstandoff:7}),
  yaxis3:Object.assign({}, baseY, {side:'left', position:PX(131), overlaying:'y', range:[11992.05, 12518.8], tickvals:ndxTicks, tickformat:'.2f', ticklabelstandoff:8}),
  yaxis4:Object.assign({}, baseY, {side:'right', position:PX(1533), overlaying:'y', range:[1916.53, 1964.45], tickvals:goldTicks, tickformat:'.4f', ticklabelstandoff:8}),
  yaxis5:Object.assign({}, baseY, {side:'right', position:PX(1609), overlaying:'y', range:[3.37997, 3.53509], tickvals:tnoteTicks, tickformat:'.4f', ticklabelstandoff:8}),
  shapes:shapes, annotations:annotations
};

Plotly.newPlot('chart', traces, layout, {staticPlot:true, displayModeBar:false});
</script></body></html>
